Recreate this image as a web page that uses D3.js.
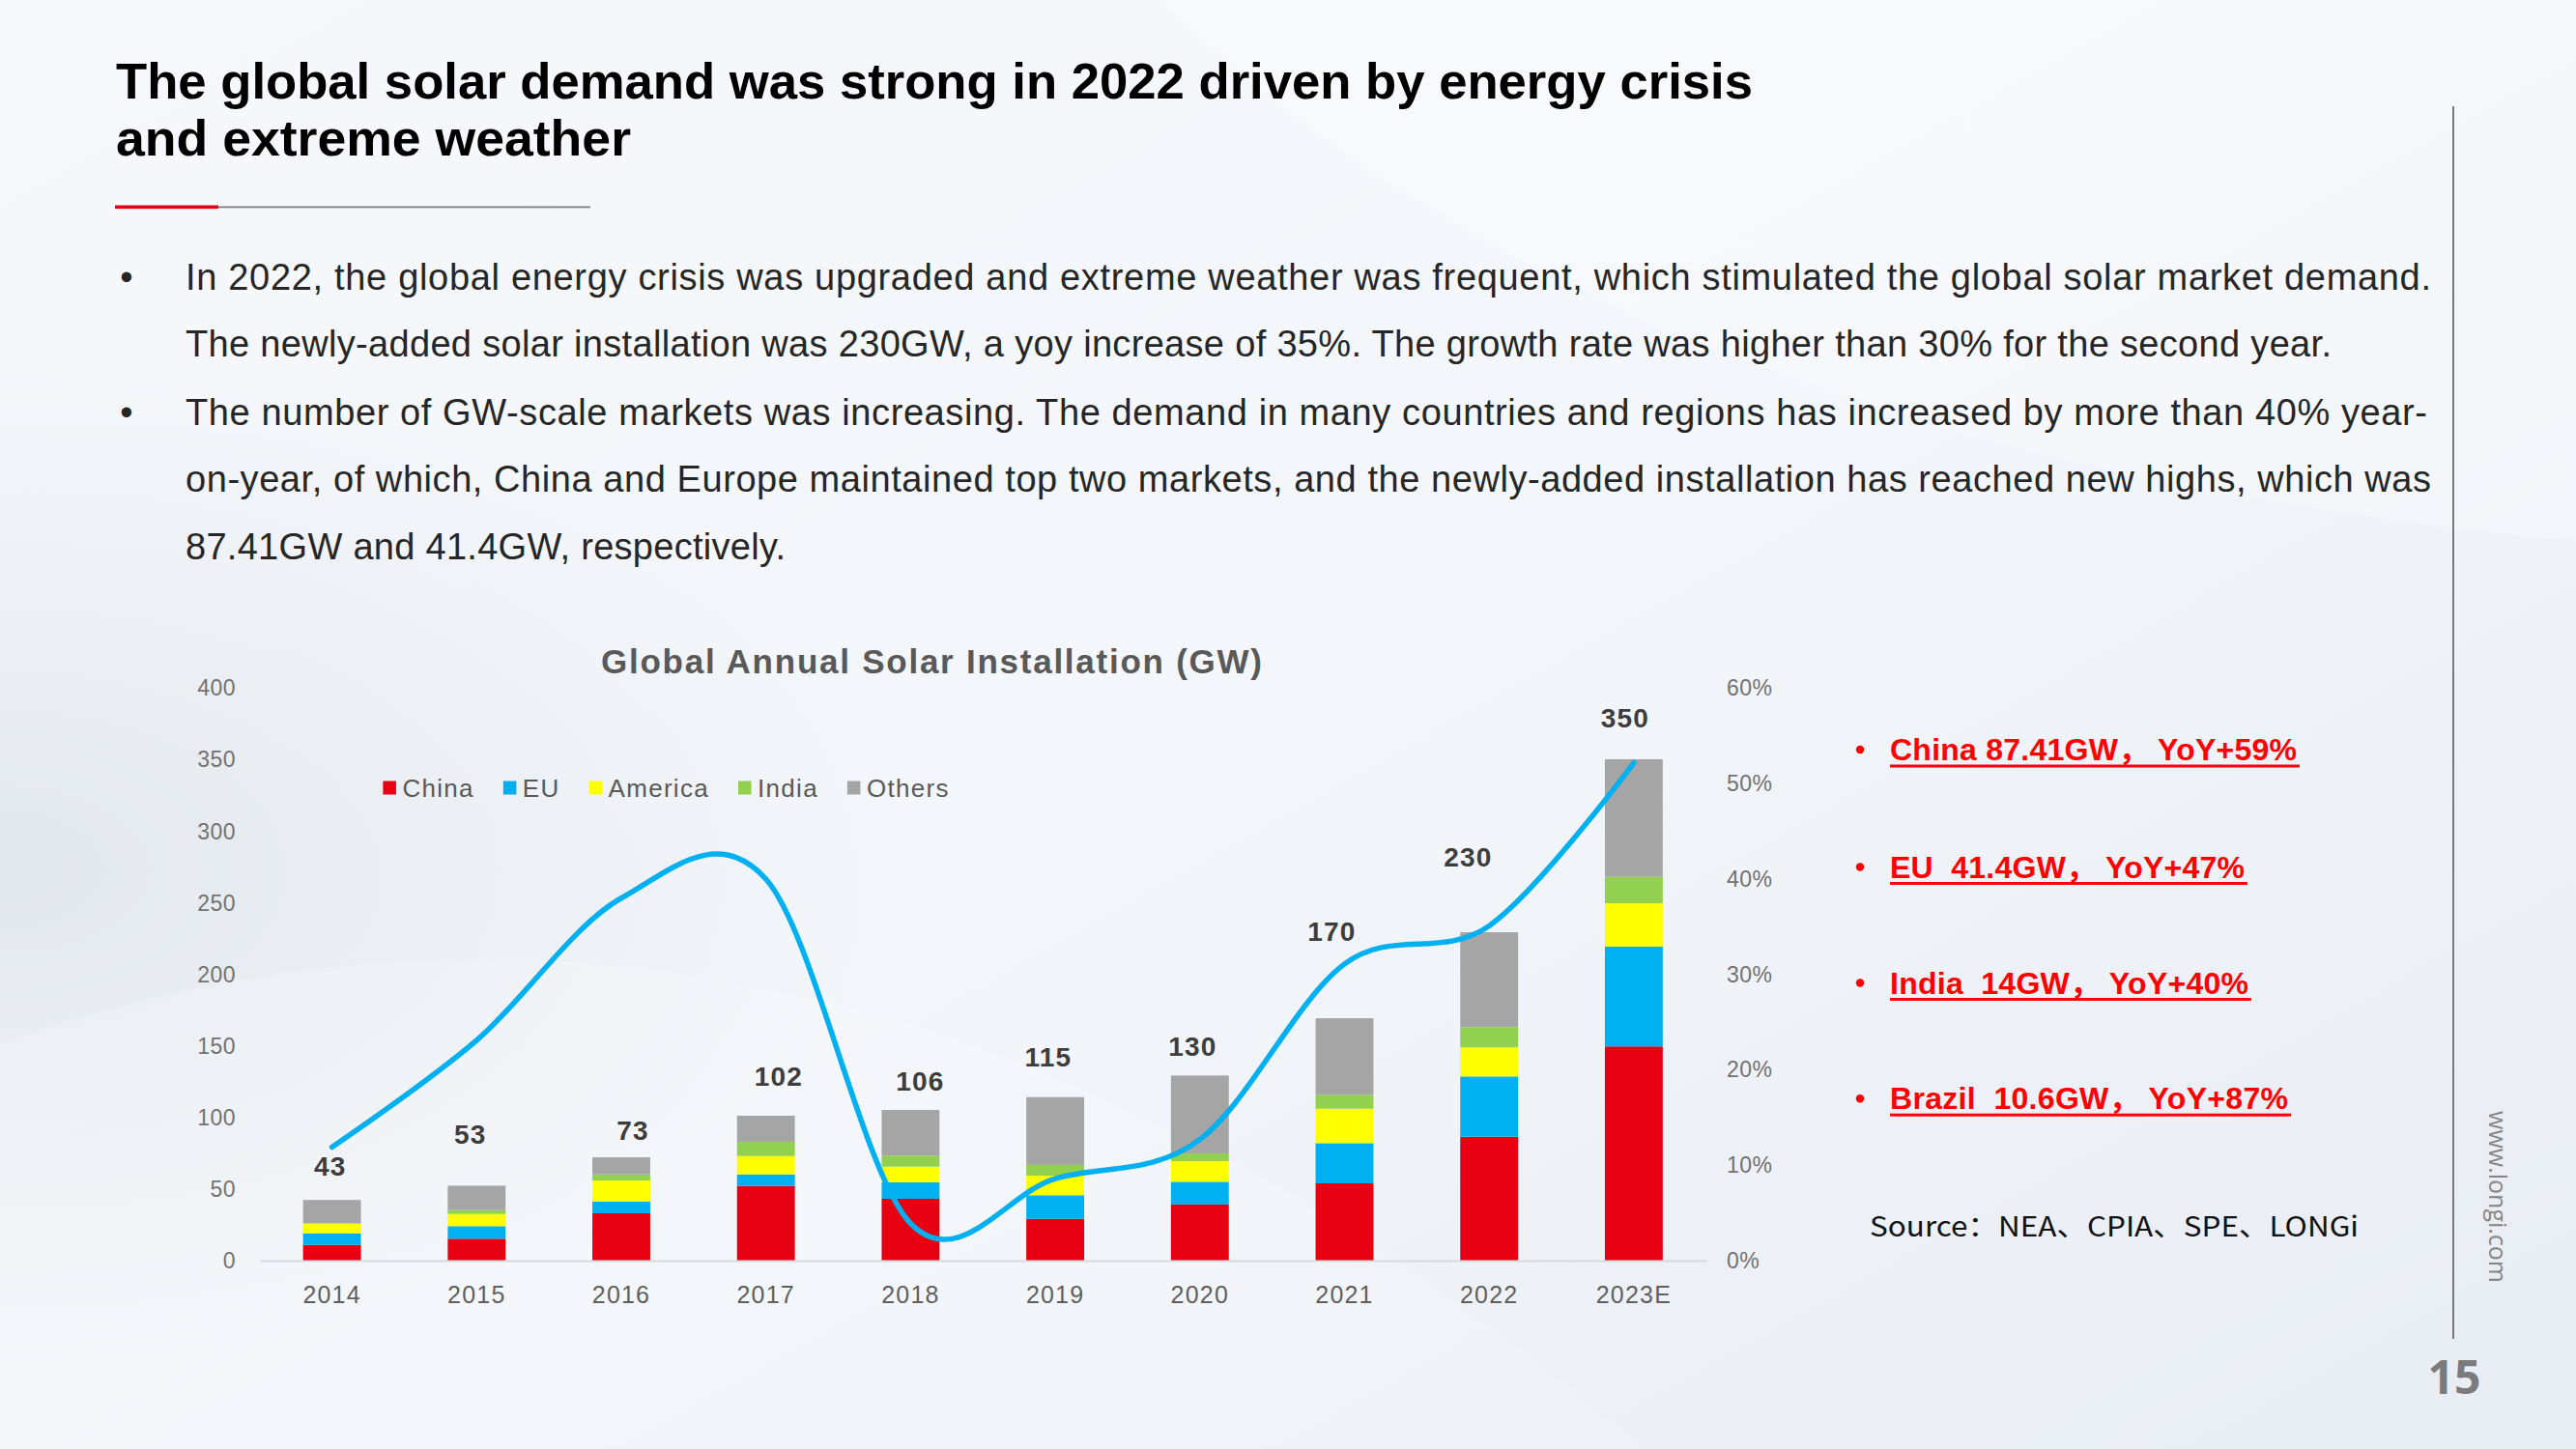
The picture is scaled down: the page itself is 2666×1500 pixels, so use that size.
<!DOCTYPE html>
<html><head><meta charset="utf-8">
<script src="https://cdn.jsdelivr.net/npm/d3@7"></script>
<style>
html,body{margin:0;padding:0;background:#f2f5f9;}
svg{display:block;}
</style></head><body>
<svg id="c" width="2666" height="1500"></svg>
<script>
// ---------- data ----------
const categories = ["2014","2015","2016","2017","2018","2019","2020","2021","2022","2023E"];
const seriesNames = ["China","EU","America","India","Others"];
const china   = [11.0, 15.3, 33.1, 52.2, 43.2, 29.2, 39.2, 54.0, 86.6, 149.7];
const eu      = [8.1, 8.8, 8.3, 8.1, 11.5, 16.5, 15.9, 28.1, 42.1, 69.7];
const america = [6.8, 8.5, 14.6, 12.8, 11.0, 13.7, 14.4, 24.1, 20.3, 30.4];
const india   = [0.3, 2.7, 4.3, 9.9, 7.7, 7.4, 5.4, 9.7, 14.2, 18.4];
const others  = [16.2, 17.1, 11.9, 18.3, 31.9, 47.5, 54.5, 53.5, 66.3, 82.2];
const totals  = [43, 53, 73, 102, 106, 115, 130, 170, 230, 350];
const growthPct = [11.9, 23.1, 38.0, 40.0, 3.9, 8.6, 12.7, 31.1, 35.1, 52.2];
const leftTicks  = [0, 50, 100, 150, 200, 250, 300, 350, 400];
const rightTicks = [0, 0.1, 0.2, 0.3, 0.4, 0.5, 0.6];

const titleLines = ["The global solar demand was strong in 2022 driven by energy crisis", "and extreme weather"];
const paraLines = [
  "In 2022, the global energy crisis was upgraded and extreme weather was frequent, which stimulated the global solar market demand.",
  "The newly-added solar installation was 230GW, a yoy increase of 35%. The growth rate was higher than 30% for the second year.",
  "The number of GW-scale markets was increasing. The demand in many countries and regions has increased by more than 40% year-",
  "on-year, of which, China and Europe maintained top two markets, and the newly-added installation has reached new highs, which was",
  "87.41GW and 41.4GW, respectively."
];
const paraBullet = [true, false, true, false, false];
const chartTitle = "Global Annual Solar Installation (GW)";
const highlights = ["China 87.41GW\uFF0C YoY+59%", "EU  41.4GW\uFF0C YoY+47%", "India  14GW\uFF0C YoY+40%", "Brazil  10.6GW\uFF0C YoY+87%"];
const sourceText = "Source\uFF1ANEA\u3001CPIA\u3001SPE\u3001LONGi";
const pageNo = "15";
const siteText = "www.longi.com";

// ---------- layout / style ----------
const colors = ["#E60012", "#00B0F0", "#FFFF00", "#92D050", "#A5A5A5"];
const lineColor = "#00B0F0";
const labelDx = [-1.9, -6.6, 12, 13.3, 9.9, -7.1, -7.5, -13.2, -21.9, -8.9];
const labelDy = [-24, -42.2, -16.9, -29.6, -18.7, -30.4, -19.1, -78.9, -67.3, -33.9];
const titleLayout = [{y: 101.7, w: 1694}, {y: 160.7, w: 533}];
const paraLayout = [{y: 300, w: 2324}, {y: 368.5, w: 2221}, {y: 439.5, w: 2320}, {y: 508.5, w: 2324}, {y: 578.5, w: 621}];
const hlLayout = [{y: 787, w: 421}, {y: 908.5, w: 367}, {y: 1028.5, w: 371}, {y: 1148.2, w: 412}];

const svg = d3.select("#c");

// background
const defs = svg.append("defs");
const bg = defs.append("linearGradient").attr("id","bg").attr("x1","0").attr("y1","0").attr("x2","1").attr("y2","1");
bg.append("stop").attr("offset","0").attr("stop-color","#f6f8fb");
bg.append("stop").attr("offset","0.5").attr("stop-color","#f3f6fa");
bg.append("stop").attr("offset","1").attr("stop-color","#e8ecf3");
const rg = defs.append("radialGradient").attr("id","shade").attr("cx","0").attr("cy","0.6").attr("r","0.35");
rg.append("stop").attr("offset","0").attr("stop-color","#dfe4ea").attr("stop-opacity","0.8");
rg.append("stop").attr("offset","1").attr("stop-color","#dfe4ea").attr("stop-opacity","0");
svg.append("rect").attr("width",2666).attr("height",1500).attr("fill","url(#bg)");
svg.append("rect").attr("width",2666).attr("height",1500).attr("fill","url(#shade)");
svg.append("path").attr("d","M0,1080 C500,900 1100,980 1700,1500 L0,1500 Z").attr("fill","#ffffff").attr("opacity",0.18);
svg.append("path").attr("d","M1200,0 C1500,300 2000,500 2666,560 L2666,0 Z").attr("fill","#ffffff").attr("opacity",0.25);

// title
svg.append("g").selectAll("text").data(titleLines).join("text")
  .attr("x", 120).attr("y", (d,i)=>titleLayout[i].y)
  .attr("textLength", (d,i)=>titleLayout[i].w).attr("lengthAdjust","spacingAndGlyphs")
  .attr("font-family","'Liberation Sans', Arial, sans-serif").attr("font-weight",700)
  .attr("font-size",52).attr("fill","#000").text(d=>d);
svg.append("rect").attr("x",226).attr("y",213.5).attr("width",385).attr("height",1.8).attr("fill","#7f7f7f");
svg.append("rect").attr("x",119).attr("y",212.5).attr("width",107).attr("height",3.6).attr("fill","#E60012");

// paragraph
const para = svg.append("g").attr("font-family","'Liberation Sans', Arial, sans-serif").attr("font-size",38).attr("fill","#262626");
para.selectAll("text.l").data(paraLines).join("text").attr("class","l")
  .attr("x",192).attr("y",(d,i)=>paraLayout[i].y)
  .attr("textLength",(d,i)=>paraLayout[i].w).attr("lengthAdjust","spacing").text(d=>d);
para.selectAll("text.b").data(paraLines.filter((d,i)=>paraBullet[i])).join("text").attr("class","b")
  .attr("x",131).attr("text-anchor","middle")
  .attr("y",(d)=>paraLayout[paraLines.indexOf(d)].y).text("\u2022");

// ---------- chart ----------
const x = d3.scaleBand().domain(categories).range([268.75, 1765.75]).paddingInner(0.6).paddingOuter(0.3);
const y = d3.scaleLinear().domain([0,400]).range([1305, 712.5]);
const y2 = d3.scaleLinear().domain([0,0.6]).range([1305, 712.5]);

const table = categories.map((c,i)=>({cat:c, China:china[i], EU:eu[i], America:america[i], India:india[i], Others:others[i]}));
const stacked = d3.stack().keys(seriesNames)(table);

svg.append("text").attr("x",622).attr("y",697).attr("textLength",684).attr("lengthAdjust","spacing")
  .attr("font-family","'Liberation Sans', Arial, sans-serif").attr("font-weight",700).attr("font-size",35)
  .attr("fill","#595959").text(chartTitle);

// axes
const axL = svg.append("g").attr("transform","translate(250,0)")
  .call(d3.axisLeft(y).tickValues(leftTicks).tickSize(0).tickPadding(6));
axL.select(".domain").remove();
axL.selectAll("text").attr("font-family","'Liberation Sans', Arial, sans-serif").attr("font-size",23)
  .attr("letter-spacing",0.5).attr("fill","#727272");

const axR = svg.append("g").attr("transform","translate(1781,0)")
  .call(d3.axisRight(y2).tickValues(rightTicks).tickFormat(d3.format(".0%")).tickSize(0).tickPadding(6));
axR.select(".domain").remove();
axR.selectAll("text").attr("font-family","'Liberation Sans', Arial, sans-serif").attr("font-size",23)
  .attr("letter-spacing",0.5).attr("fill","#727272");

// bars
svg.append("g").selectAll("g").data(stacked).join("g").attr("fill",(d,i)=>colors[i])
  .selectAll("rect").data(d=>d).join("rect")
  .attr("x",d=>x(d.data.cat)).attr("width",x.bandwidth())
  .attr("y",d=>y(d[1])).attr("height",d=>y(d[0])-y(d[1]));

const axB = svg.append("g").attr("transform","translate(0,1305)")
  .call(d3.axisBottom(x).tickSize(0).tickSizeOuter(0).tickPadding(26));
axB.select(".domain").attr("stroke","#d6d9de").attr("stroke-width",2.2);
axB.selectAll("text").attr("font-family","'Liberation Sans', Arial, sans-serif").attr("font-size",25)
  .attr("letter-spacing",1.2).attr("fill","#5f5f5f");

// growth line
const line = d3.line().x((d,i)=>x(categories[i])+x.bandwidth()/2).y(d=>y2(d/100)).curve(d3.curveCardinal.tension(0));
svg.append("path").datum(growthPct).attr("d",line).attr("fill","none").attr("stroke",lineColor)
  .attr("stroke-width",5.5).attr("stroke-linecap","round").attr("stroke-linejoin","round");

// total labels
svg.append("g").selectAll("text").data(totals).join("text")
  .attr("x",(d,i)=>x(categories[i])+x.bandwidth()/2+labelDx[i])
  .attr("y",(d,i)=>y(d)+labelDy[i]).attr("text-anchor","middle")
  .attr("font-family","'Liberation Sans', Arial, sans-serif").attr("font-weight",700).attr("font-size",28)
  .attr("letter-spacing",1.2).attr("fill","#3d3d3d").text(d=>d);

// legend
const lg = svg.append("g").attr("font-family","'Liberation Sans', Arial, sans-serif").attr("font-size",26).attr("letter-spacing",1.3).attr("fill","#595959");
let lx = 396.4;
seriesNames.forEach((n,i)=>{
  lg.append("rect").attr("x",lx).attr("y",808.5).attr("width",13.5).attr("height",14).attr("fill",colors[i]);
  const t = lg.append("text").attr("x",lx+20).attr("y",824.5).text(n);
  lx = lx + 20 + t.node().getComputedTextLength() + 30;
});

// highlights on right
const hl = svg.append("g");
highlights.forEach((h,i)=>{
  const L = hlLayout[i];
  hl.append("circle").attr("cx",1925).attr("cy",L.y-11).attr("r",4.2).attr("fill","#FF0000");
  hl.append("text").attr("x",1956).attr("y",L.y).attr("textLength",L.w).attr("lengthAdjust","spacing")
    .style("white-space","pre")
    .attr("font-family","'Liberation Sans', Arial, 'Noto Sans CJK SC', sans-serif").attr("font-weight",700)
    .attr("font-size",32).attr("fill","#FF0000").text(h);
  hl.append("rect").attr("x",1956).attr("y",L.y+4.5).attr("width",L.w+3).attr("height",3).attr("fill","#FF0000");
});
svg.append("text").attr("x",1935).attr("y",1279.5).attr("textLength",506).attr("lengthAdjust","spacingAndGlyphs")
  .attr("font-family","'Noto Sans CJK SC', sans-serif").attr("font-size",29).attr("fill","#111").text(sourceText);

// page frame
svg.append("line").attr("x1",2539).attr("x2",2539).attr("y1",110).attr("y2",1386).attr("stroke","#7a7a7a").attr("stroke-width",2);
svg.append("text").attr("x",2540).attr("y",1443).attr("text-anchor","middle")
  .attr("font-family","'Open Sans', sans-serif").attr("font-weight",700).attr("font-size",48).attr("fill","#7b7b7b").text(pageNo);
svg.append("text").attr("transform","translate(2576,1239) rotate(90)").attr("text-anchor","middle")
  .attr("font-family","'Open Sans', sans-serif").attr("font-size",25).attr("fill","#858585").text(siteText);
</script>
</body></html>
